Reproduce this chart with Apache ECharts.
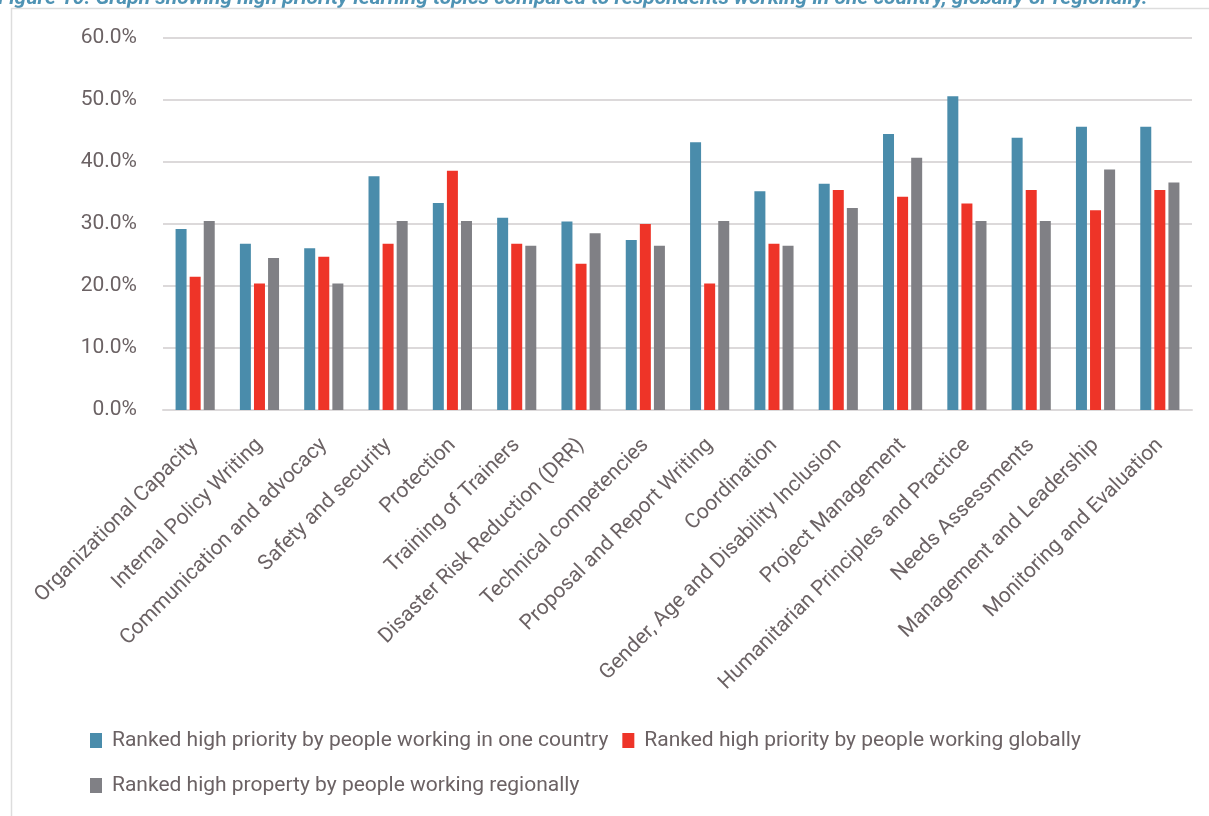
<!DOCTYPE html>
<html>
<head>
<meta charset="utf-8">
<script src="https://cdn.jsdelivr.net/npm/echarts@6/dist/echarts.min.js"></script>
<style>
  html, body { margin: 0; padding: 0; background: #ffffff; }
  #chart { width: 1209px; height: 816px; }
</style>
</head>
<body>
<div id="chart"></div>
<script>
// Learning topics ranked high priority, by where respondents work
const categories = [
  'Organizational Capacity', 'Internal Policy Writing', 'Communication and advocacy',
  'Safety and security', 'Protection', 'Training of Trainers',
  'Disaster Risk Reduction (DRR)', 'Technical competencies', 'Proposal and Report Writing',
  'Coordination', 'Gender, Age and Disability Inclusion', 'Project Management',
  'Humanitarian Principles and Practice', 'Needs Assessments', 'Management and Leadership',
  'Monitoring and Evaluation'
];
const seriesNames = [
  'Ranked high priority by people working in one country',
  'Ranked high priority by people working globally',
  'Ranked high property by people working regionally'
];
// percentages
const oneCountry = [29.2, 26.8, 26.1, 37.7, 33.4, 31.0, 30.4, 27.4, 43.2, 35.3, 36.5, 44.5, 50.6, 43.9, 45.7, 45.7];
const globally   = [21.5, 20.4, 24.7, 26.8, 38.6, 26.8, 23.6, 30.0, 20.4, 26.8, 35.5, 34.4, 33.3, 35.5, 32.2, 35.5];
const regionally = [30.5, 24.5, 20.4, 30.5, 30.5, 26.5, 28.5, 26.5, 30.5, 26.5, 32.6, 40.7, 30.5, 30.5, 38.8, 36.7];
const yTicks = { min: 0, max: 60, interval: 10 };

const captionText = 'Figure 10: Graph showing high priority learning topics compared to respondents working in one country, globally or regionally.';

const colors = ['#4a8cab', '#ee3428', '#808085'];
const textGray = '#6b6264';
const gridGray = '#dcd9da';
const fontFamily = 'Roboto, "Noto Sans", sans-serif';

const chart = echarts.init(document.getElementById('chart'), null, { renderer: 'canvas' });

const legendText = { color: textGray, fontSize: 21, fontFamily: fontFamily, padding: [0, 0, 0, 5] };

chart.setOption({
  backgroundColor: '#ffffff',
  animation: false,
  color: colors,
  graphic: [
    {
      type: 'text', left: -2, top: -12,
      style: {
        text: captionText, fill: '#4f93b4',
        font: 'italic bold 21px Roboto, sans-serif'
      }
    },
    {
      type: 'polyline',
      shape: { points: [[11.5, 816], [11.5, 8.5], [1209, 8.5]] },
      style: { stroke: '#dddddd', lineWidth: 1.5, fill: null }
    }
  ],
  grid: { left: 163, right: 17, top: 38, bottom: 406, containLabel: false },
  legend: [
    {
      data: seriesNames.slice(0, 2),
      left: 90, top: 730, padding: 0, itemWidth: 12, itemHeight: 15, itemGap: 14,
      icon: 'rect', textStyle: legendText
    },
    {
      data: seriesNames.slice(2),
      left: 90, top: 775, padding: 0, itemWidth: 12, itemHeight: 15,
      icon: 'rect', textStyle: legendText
    }
  ],
  xAxis: {
    type: 'category',
    data: categories,
    axisLine: { show: true, lineStyle: { color: gridGray, width: 2 } },
    axisTick: { show: false },
    axisLabel: {
      rotate: 45, interval: 0, margin: 32,
      color: textGray, fontSize: 21, fontFamily: fontFamily
    }
  },
  yAxis: {
    type: 'value',
    min: yTicks.min, max: yTicks.max, interval: yTicks.interval,
    axisLine: { show: false },
    axisTick: { show: false },
    splitLine: { lineStyle: { color: gridGray, width: 2 } },
    axisLabel: {
      margin: 26, color: textGray, fontSize: 21, fontFamily: fontFamily,
      formatter: v => v.toFixed(1) + '%'
    }
  },
  series: [oneCountry, globally, regionally].map((d, i) => ({
    name: seriesNames[i],
    type: 'bar',
    data: d,
    barWidth: 11,
    barGap: '28%',
    itemStyle: { color: colors[i] }
  }))
});
</script>
</body>
</html>
